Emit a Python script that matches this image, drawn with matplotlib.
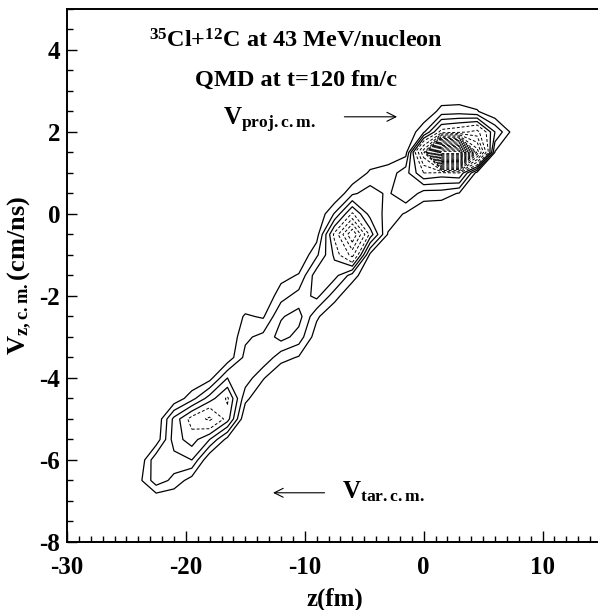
import numpy as np
import matplotlib
matplotlib.use('Agg')
import matplotlib.pyplot as plt
from matplotlib.ticker import MultipleLocator

# 2D histogram of z (fm) vs V_z (cm/ns).
# Bins are 1.5 fm x 0.5 cm/ns; each column lists its counts from the lowest non-empty bin up.
bin_z = [-24.0, -22.5, -21.0, -19.5, -18.0, -16.5, -15.0, -13.5, -12.0, -10.5, -9.0,
         -7.5, -6.0, -4.5, -3.0, -1.5, 0.0, 1.5, 3.0, 4.5, 6.0, 7.5]
first_v = [-6.5, -6.5, -6.5, -6.5, -5.5, -5.5, -4.5, -4.0, -3.5, -3.5, -3.0,
           -2.0, -1.5, -1.0, -0.5, 0.0, 0.0, 0.5, 0.5, 1.0, 1.5, 2.0]
counts = [
    [0.6],
    [2.6, 2.8, 0.3],
    [1.7, 2.6, 3.5, 3.3, 0.2],
    [0.5, 3.0, 4.5, 5.5, 1.6],
    [3.0, 6.8, 3.5, 0.6],
    [0.6, 4.5, 5.2, 3.0, 0.3],
    [1.3, 2.6, 2.3, 1.8, 1.15],
    [1.1, 2.8, 2.3, 0.87],
    [1.4, 3.4, 2.9, 1.6, 0.6],
    [0.9, 2.6, 3.4, 2.4, 1.1],
    [0.4, 1.2, 3.3, 3.6, 1.8, 0.5],
    [1.45, 3.4, 4.2, 5.3, 2.1],
    [1.5, 7.0, 11.0, 5.2, 1.8],
    [0.7, 4.6, 2.6, 2.5, 1.2],
    [0.9, 1.7, 1.8, 1.4, 0.4],
    [0.85, 3.0, 2.6, 0.6],
    [0.2, 1.5, 5.0, 9.0, 1.8],
    [1.5, 4.6, 32.0, 5.5, 1.4],
    [0.9, 5.0, 32.0, 6.0, 1.5],
    [0.5, 12.0, 7.0, 1.1],
    [0.9, 3.0],
    [0.6],
]

solid_levels = [1, 2, 3, 4]
dashed_levels = np.arange(5, 32, 1.5)

plt.rcParams['font.family'] = 'Liberation Serif'
plt.rcParams['font.weight'] = 'bold'
plt.rcParams['axes.unicode_minus'] = False
plt.rcParams['mathtext.fontset'] = 'custom'
plt.rcParams['mathtext.rm'] = 'Liberation Serif:bold'
plt.rcParams['mathtext.bf'] = 'Liberation Serif:bold'
plt.rcParams['mathtext.it'] = 'Liberation Serif:bold'


def build_grid():
    dz, dv = 1.5, 0.5
    zs = np.arange(-25.5, 9.0 + dz / 2, dz)
    vs = np.arange(-7.5, 3.5 + dv / 2, dv)
    grid = np.zeros((len(vs), len(zs)))
    for z, v0, col in zip(bin_z, first_v, counts):
        i = int(round((z - zs[0]) / dz))
        j = int(round((v0 - vs[0]) / dv))
        grid[j:j + len(col), i] = col
    return zs, vs, grid


def contour_plot():
    zs, vs, grid = build_grid()
    Z, V = np.meshgrid(zs, vs)

    fig = plt.figure(figsize=(5.98, 6.10), dpi=100)
    ax = fig.add_axes([0.112, 0.1115, 0.8946, 0.8738])

    ax.contour(Z, V, grid, levels=solid_levels, colors='black', linewidths=0.9)
    ax.contour(Z, V, grid, levels=dashed_levels, colors='black', linewidths=0.7,
               linestyles=[(0, (3, 2))])

    ax.set_xlim(-30, 15)
    ax.set_ylim(-8, 5)
    ax.xaxis.set_major_locator(MultipleLocator(10))
    ax.xaxis.set_minor_locator(MultipleLocator(1))
    ax.yaxis.set_major_locator(MultipleLocator(2))
    ax.yaxis.set_minor_locator(MultipleLocator(0.5))
    ax.tick_params(which='both', direction='in', labelsize=18, width=1.0)
    ax.tick_params(axis='x', which='major', length=8, pad=10)
    ax.tick_params(axis='y', which='major', length=7, pad=5)
    ax.tick_params(which='minor', length=4)
    for s in ax.spines.values():
        s.set_linewidth(1.4)

    ax.set_xlabel('z(fm)', fontsize=18, fontweight='bold', labelpad=6)
    ax.set_ylabel(r'V$_{\mathrm{z,c.m.}}$(cm/ns)', fontsize=19, fontweight='bold', labelpad=4)

    ax.text(-10.7, 4.07, r'$^{35}$Cl+$^{12}$C at 43 MeV/nucleon', fontsize=17.5,
            ha='center', va='baseline')
    ax.text(-10.7, 3.12, 'QMD at t=120 fm/c', fontsize=17.5, ha='center', va='baseline')
    ax.text(-16.9, 2.17, r'V$_{\mathrm{proj.c.m.}}$', fontsize=18, ha='left', va='baseline')
    ax.text(-6.9, -6.93, r'V$_{\mathrm{tar.c.m.}}$', fontsize=18, ha='left', va='baseline')

    arrow = dict(arrowstyle='->', lw=0.8, color='black', mutation_scale=16)
    ax.annotate('', xy=(-2.0, 2.37), xytext=(-6.9, 2.37), arrowprops=arrow)
    ax.annotate('', xy=(-12.9, -6.8), xytext=(-8.1, -6.8), arrowprops=arrow)

    fig.savefig('out.png', dpi=100)


if __name__ == "__main__":
    contour_plot()
